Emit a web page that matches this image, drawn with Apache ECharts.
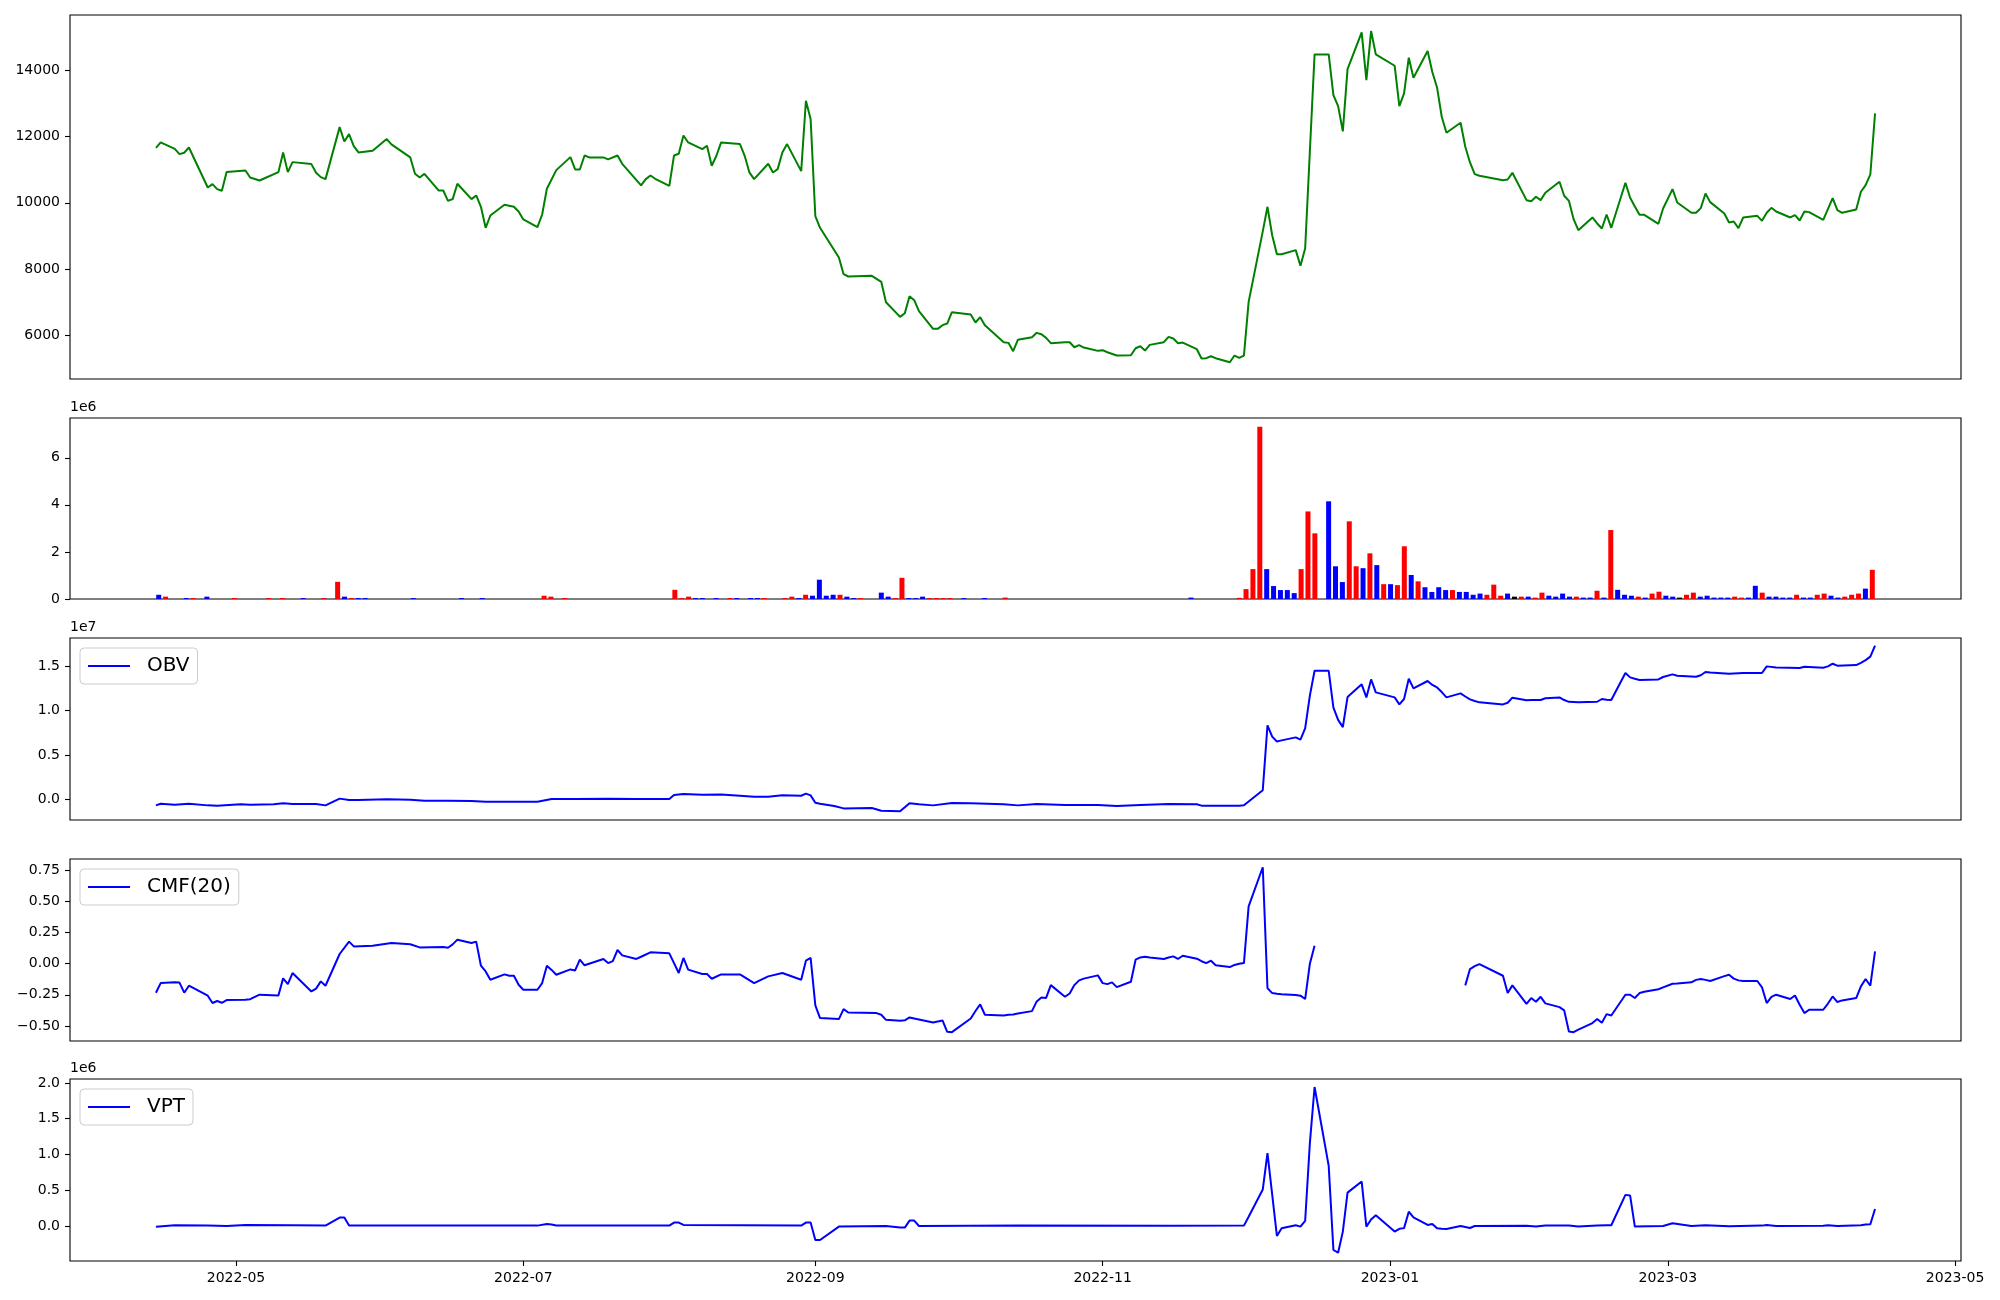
<!DOCTYPE html>
<html><head><meta charset="utf-8">
<script src="https://cdn.jsdelivr.net/npm/echarts@6/dist/echarts.min.js"></script>
<style>html,body{margin:0;padding:0;background:#fff}#c{width:2000px;height:1300px}</style>
</head><body><div id="c"></div>
<script>
// ---------- DATA ----------
const pricePoints = [
['2022-04-14',11658],['2022-04-15',11819],['2022-04-18',11628],['2022-04-19',11467],['2022-04-20',11508],['2022-04-21',11668],
['2022-04-25',10462],['2022-04-26',10563],['2022-04-27',10412],['2022-04-28',10362],['2022-04-29',10925],['2022-05-03',10975],
['2022-05-04',10764],['2022-05-06',10673],['2022-05-10',10925],['2022-05-11',11518],['2022-05-12',10925],['2022-05-13',11226],
['2022-05-17',11166],['2022-05-18',10905],['2022-05-19',10774],['2022-05-20',10714],['2022-05-23',12281],['2022-05-24',11849],
['2022-05-25',12070],['2022-05-26',11708],['2022-05-27',11518],['2022-05-30',11568],['2022-06-02',11920],['2022-06-03',11759],
['2022-06-07',11367],['2022-06-08',10875],['2022-06-09',10764],['2022-06-10',10875],['2022-06-13',10372],['2022-06-14',10372],
['2022-06-15',10060],['2022-06-16',10111],['2022-06-17',10573],['2022-06-20',10111],['2022-06-21',10221],['2022-06-22',9880],
['2022-06-23',9246],['2022-06-24',9618],['2022-06-27',9940],['2022-06-29',9880],['2022-06-30',9739],['2022-07-01',9498],
['2022-07-04',9266],['2022-07-05',9648],['2022-07-06',10422],['2022-07-08',10985],['2022-07-11',11377],['2022-07-12',11005],
['2022-07-13',11005],['2022-07-14',11427],['2022-07-15',11367],['2022-07-18',11367],['2022-07-19',11307],['2022-07-21',11427],
['2022-07-22',11176],['2022-07-26',10523],['2022-07-27',10714],['2022-07-28',10824],['2022-07-29',10724],['2022-08-01',10513],
['2022-08-02',11427],['2022-08-03',11477],['2022-08-04',12030],['2022-08-05',11819],['2022-08-08',11618],['2022-08-09',11719],
['2022-08-10',11116],['2022-08-11',11417],['2022-08-12',11819],['2022-08-16',11769],['2022-08-17',11417],['2022-08-18',10915],
['2022-08-19',10714],['2022-08-22',11176],['2022-08-23',10915],['2022-08-24',11015],['2022-08-25',11517],['2022-08-26',11769],
['2022-08-29',10955],['2022-08-30',13075],['2022-08-31',12523],['2022-09-01',9598],['2022-09-02',9246],['2022-09-06',8352],
['2022-09-07',7849],['2022-09-08',7779],['2022-09-13',7799],['2022-09-15',7618],['2022-09-16',7005],['2022-09-19',6563],
['2022-09-20',6674],['2022-09-21',7186],['2022-09-22',7065],['2022-09-23',6734],['2022-09-26',6201],['2022-09-27',6201],
['2022-09-28',6312],['2022-09-29',6362],['2022-09-30',6704],['2022-10-04',6633],['2022-10-05',6392],['2022-10-06',6553],
['2022-10-07',6312],['2022-10-11',5799],['2022-10-12',5779],['2022-10-13',5528],['2022-10-14',5870],['2022-10-17',5950],
['2022-10-18',6081],['2022-10-19',6040],['2022-10-20',5930],['2022-10-21',5769],['2022-10-24',5799],['2022-10-25',5799],
['2022-10-26',5648],['2022-10-27',5709],['2022-10-28',5638],['2022-10-31',5538],['2022-11-01',5558],['2022-11-02',5497],
['2022-11-04',5397],['2022-11-07',5407],['2022-11-08',5618],['2022-11-09',5678],['2022-11-10',5548],['2022-11-11',5718],
['2022-11-14',5799],['2022-11-15',5960],['2022-11-16',5910],['2022-11-17',5769],['2022-11-18',5789],['2022-11-21',5588],
['2022-11-22',5307],['2022-11-23',5317],['2022-11-24',5377],['2022-11-25',5317],['2022-11-28',5196],['2022-11-29',5397],
['2022-11-30',5327],['2022-12-01',5397],['2022-12-02',7015],['2022-12-05',9140],['2022-12-06',9880],['2022-12-07',9023],
['2022-12-08',8452],['2022-12-09',8452],['2022-12-12',8573],['2022-12-13',8101],['2022-12-14',8623],['2022-12-15',11550],
['2022-12-16',14472],['2022-12-19',14472],['2022-12-20',13246],['2022-12-21',12915],['2022-12-22',12151],['2022-12-23',14030],
['2022-12-26',15136],['2022-12-27',13698],['2022-12-28',15176],['2022-12-29',14472],['2023-01-02',14131],['2023-01-03',12915],
['2023-01-04',13296],['2023-01-05',14372],['2023-01-06',13769],['2023-01-09',14573],['2023-01-10',13940],['2023-01-11',13477],
['2023-01-12',12593],['2023-01-13',12111],['2023-01-16',12412],['2023-01-17',11688],['2023-01-18',11216],['2023-01-19',10864],
['2023-01-20',10814],['2023-01-25',10683],['2023-01-26',10703],['2023-01-27',10904],['2023-01-30',10080],['2023-01-31',10050],
['2023-02-01',10181],['2023-02-02',10080],['2023-02-03',10302],['2023-02-06',10633],['2023-02-07',10211],['2023-02-08',10060],
['2023-02-09',9508],['2023-02-10',9176],['2023-02-13',9558],['2023-02-14',9377],['2023-02-15',9226],['2023-02-16',9648],
['2023-02-17',9246],['2023-02-20',10603],['2023-02-21',10151],['2023-02-22',9890],['2023-02-23',9638],['2023-02-24',9638],
['2023-02-27',9367],['2023-02-28',9829],['2023-03-02',10412],['2023-03-03',10010],['2023-03-06',9699],['2023-03-07',9699],
['2023-03-08',9839],['2023-03-09',10281],['2023-03-10',10020],['2023-03-13',9678],['2023-03-14',9407],['2023-03-15',9437],
['2023-03-16',9236],['2023-03-17',9558],['2023-03-20',9608],['2023-03-21',9457],['2023-03-22',9699],['2023-03-23',9849],
['2023-03-24',9739],['2023-03-27',9558],['2023-03-28',9628],['2023-03-29',9467],['2023-03-30',9739],['2023-03-31',9719],
['2023-04-03',9488],['2023-04-05',10141],['2023-04-06',9779],['2023-04-07',9699],['2023-04-10',9799],['2023-04-11',10332],
['2023-04-12',10533],['2023-04-13',10854],['2023-04-14',12693]
];

// volume bars: [trading-day index, volume, direction r/b/k]
const volumeBars = [
[0,0.18e6,'b'],[1,0.10e6,'r'],[4,0.04e6,'b'],[5,0.04e6,'r'],[7,0.10e6,'b'],[11,0.04e6,'r'],[16,0.04e6,'r'],[18,0.04e6,'r'],
[21,0.04e6,'b'],[24,0.04e6,'r'],[26,0.73e6,'r'],[27,0.10e6,'b'],[28,0.04e6,'r'],[29,0.04e6,'b'],[30,0.04e6,'b'],[37,0.04e6,'b'],
[44,0.04e6,'b'],[47,0.04e6,'b'],[56,0.14e6,'r'],[57,0.10e6,'r'],[59,0.04e6,'r'],[75,0.39e6,'r'],[76,0.04e6,'r'],[77,0.10e6,'r'],
[78,0.04e6,'b'],[79,0.04e6,'b'],[81,0.04e6,'b'],[83,0.04e6,'r'],[84,0.04e6,'b'],[86,0.04e6,'b'],[87,0.04e6,'b'],[88,0.04e6,'r'],
[91,0.04e6,'r'],[92,0.10e6,'r'],[93,0.04e6,'b'],[94,0.18e6,'r'],[95,0.14e6,'b'],[96,0.82e6,'b'],[97,0.14e6,'b'],[98,0.18e6,'b'],
[99,0.18e6,'r'],[100,0.10e6,'b'],[101,0.04e6,'b'],[102,0.04e6,'r'],[105,0.27e6,'b'],[106,0.10e6,'b'],[107,0.04e6,'r'],[108,0.90e6,'r'],
[109,0.04e6,'b'],[110,0.04e6,'b'],[111,0.10e6,'b'],[112,0.04e6,'r'],[113,0.04e6,'r'],[114,0.04e6,'r'],[115,0.04e6,'r'],[117,0.04e6,'b'],
[120,0.04e6,'b'],[123,0.06e6,'r'],[150,0.06e6,'b'],
[157,0.05e6,'r'],[158,0.42e6,'r'],[159,1.27e6,'r'],[160,7.32e6,'r'],[161,1.27e6,'b'],[162,0.55e6,'b'],[163,0.38e6,'b'],[164,0.38e6,'b'],
[165,0.25e6,'b'],[166,1.27e6,'r'],[167,3.72e6,'r'],[168,2.79e6,'r'],[170,4.15e6,'b'],[171,1.39e6,'b'],[172,0.72e6,'b'],[173,3.30e6,'r'],
[174,1.39e6,'r'],[175,1.31e6,'b'],[176,1.94e6,'r'],[177,1.44e6,'b'],[178,0.63e6,'r'],[179,0.63e6,'b'],[180,0.59e6,'r'],[181,2.24e6,'r'],
[182,1.02e6,'b'],[183,0.75e6,'r'],[184,0.50e6,'b'],[185,0.30e6,'b'],[186,0.50e6,'b'],[187,0.38e6,'b'],[188,0.38e6,'r'],[189,0.30e6,'b'],
[190,0.30e6,'b'],[191,0.18e6,'b'],[192,0.23e6,'b'],[193,0.18e6,'r'],[194,0.61e6,'r'],[195,0.14e6,'r'],[196,0.23e6,'b'],[197,0.10e6,'k'],
[198,0.10e6,'r'],[199,0.10e6,'b'],[200,0.06e6,'r'],[201,0.27e6,'r'],[202,0.14e6,'b'],[203,0.10e6,'b'],[204,0.23e6,'b'],[205,0.10e6,'b'],
[206,0.10e6,'r'],[207,0.06e6,'b'],[208,0.06e6,'b'],[209,0.35e6,'r'],[210,0.06e6,'b'],[211,2.93e6,'r'],[212,0.39e6,'b'],[213,0.18e6,'b'],
[214,0.14e6,'b'],[215,0.10e6,'r'],[216,0.06e6,'b'],[217,0.23e6,'r'],[218,0.31e6,'r'],[219,0.14e6,'b'],[220,0.10e6,'b'],[221,0.06e6,'k'],
[222,0.18e6,'r'],[223,0.27e6,'r'],[224,0.10e6,'b'],[225,0.14e6,'b'],[226,0.06e6,'b'],[227,0.06e6,'b'],[228,0.06e6,'b'],[229,0.10e6,'r'],
[230,0.06e6,'r'],[231,0.06e6,'b'],[232,0.56e6,'b'],[233,0.27e6,'r'],[234,0.10e6,'b'],[235,0.10e6,'b'],[236,0.06e6,'b'],[237,0.06e6,'b'],
[238,0.18e6,'r'],[239,0.06e6,'b'],[240,0.06e6,'b'],[241,0.18e6,'r'],[242,0.23e6,'r'],[243,0.14e6,'b'],[244,0.06e6,'b'],[245,0.10e6,'r'],
[246,0.18e6,'r'],[247,0.23e6,'r'],[248,0.44e6,'b'],[249,1.24e6,'r']
];
const tradingDayCount = 250;

const obvPoints = [
['2022-04-14',-0.068e7],['2022-04-15',-0.049e7],['2022-04-18',-0.060e7],['2022-04-21',-0.049e7],['2022-04-25',-0.068e7],
['2022-04-27',-0.071e7],['2022-05-02',-0.056e7],['2022-05-04',-0.060e7],['2022-05-09',-0.056e7],['2022-05-11',-0.045e7],
['2022-05-13',-0.053e7],['2022-05-18',-0.053e7],['2022-05-20',-0.068e7],['2022-05-23',0.008e7],['2022-05-25',-0.008e7],
['2022-05-27',-0.008e7],['2022-06-02',0.000e7],['2022-06-07',-0.004e7],['2022-06-10',-0.015e7],['2022-06-15',-0.015e7],
['2022-06-20',-0.019e7],['2022-06-23',-0.026e7],['2022-06-28',-0.026e7],['2022-07-04',-0.026e7],['2022-07-07',0.004e7],
['2022-07-12',0.004e7],['2022-07-19',0.008e7],['2022-07-25',0.004e7],['2022-08-01',0.004e7],['2022-08-02',0.049e7],
['2022-08-04',0.060e7],['2022-08-08',0.053e7],['2022-08-12',0.056e7],['2022-08-16',0.041e7],['2022-08-19',0.030e7],
['2022-08-22',0.030e7],['2022-08-25',0.045e7],['2022-08-29',0.041e7],['2022-08-30',0.064e7],['2022-08-31',0.045e7],
['2022-09-01',-0.038e7],['2022-09-02',-0.049e7],['2022-09-05',-0.075e7],['2022-09-07',-0.102e7],['2022-09-13',-0.098e7],
['2022-09-15',-0.128e7],['2022-09-19',-0.135e7],['2022-09-21',-0.045e7],['2022-09-23',-0.056e7],['2022-09-26',-0.068e7],
['2022-09-30',-0.041e7],['2022-10-04',-0.045e7],['2022-10-11',-0.056e7],['2022-10-14',-0.068e7],['2022-10-18',-0.053e7],
['2022-10-24',-0.064e7],['2022-10-31',-0.064e7],['2022-11-04',-0.075e7],['2022-11-09',-0.064e7],['2022-11-15',-0.053e7],
['2022-11-21',-0.056e7],['2022-11-22',-0.071e7],['2022-11-30',-0.071e7],['2022-12-01',-0.066e7],['2022-12-02',-0.024e7],
['2022-12-05',0.103e7],['2022-12-06',0.835e7],['2022-12-07',0.708e7],['2022-12-08',0.653e7],['2022-12-09',0.665e7],
['2022-12-12',0.699e7],['2022-12-13',0.673e7],['2022-12-14',0.800e7],['2022-12-15',1.170e7],['2022-12-16',1.450e7],
['2022-12-19',1.450e7],['2022-12-20',1.035e7],['2022-12-21',0.896e7],['2022-12-22',0.815e7],['2022-12-23',1.154e7],
['2022-12-26',1.297e7],['2022-12-27',1.150e7],['2022-12-28',1.353e7],['2022-12-29',1.207e7],['2023-01-02',1.150e7],
['2023-01-03',1.071e7],['2023-01-04',1.132e7],['2023-01-05',1.361e7],['2023-01-06',1.252e7],['2023-01-09',1.335e7],
['2023-01-10',1.290e7],['2023-01-11',1.262e7],['2023-01-12',1.210e7],['2023-01-13',1.150e7],['2023-01-16',1.195e7],
['2023-01-17',1.160e7],['2023-01-18',1.128e7],['2023-01-19',1.110e7],['2023-01-20',1.094e7],['2023-01-25',1.071e7],
['2023-01-26',1.090e7],['2023-01-27',1.147e7],['2023-01-30',1.117e7],['2023-01-31',1.120e7],['2023-02-02',1.120e7],
['2023-02-03',1.140e7],['2023-02-06',1.150e7],['2023-02-07',1.120e7],['2023-02-08',1.100e7],['2023-02-10',1.095e7],
['2023-02-14',1.101e7],['2023-02-15',1.132e7],['2023-02-16',1.124e7],['2023-02-17',1.120e7],['2023-02-20',1.425e7],
['2023-02-21',1.376e7],['2023-02-22',1.360e7],['2023-02-23',1.346e7],['2023-02-27',1.353e7],['2023-02-28',1.380e7],
['2023-03-02',1.410e7],['2023-03-03',1.395e7],['2023-03-07',1.383e7],['2023-03-08',1.400e7],['2023-03-09',1.436e7],
['2023-03-10',1.430e7],['2023-03-14',1.417e7],['2023-03-17',1.425e7],['2023-03-21',1.425e7],['2023-03-22',1.500e7],
['2023-03-24',1.487e7],['2023-03-29',1.481e7],['2023-03-30',1.496e7],['2023-04-03',1.485e7],['2023-04-04',1.500e7],
['2023-04-05',1.530e7],['2023-04-06',1.508e7],['2023-04-10',1.515e7],['2023-04-11',1.540e7],['2023-04-12',1.570e7],
['2023-04-13',1.610e7],['2023-04-14',1.733e7]
];

const cmfPoints = [
['2022-04-14',-0.233],['2022-04-15',-0.156],['2022-04-18',-0.150],['2022-04-19',-0.152],['2022-04-20',-0.233],['2022-04-21',-0.177],
['2022-04-25',-0.257],['2022-04-26',-0.316],['2022-04-27',-0.300],['2022-04-28',-0.314],['2022-04-29',-0.292],['2022-05-03',-0.290],
['2022-05-04',-0.285],['2022-05-06',-0.249],['2022-05-10',-0.255],['2022-05-11',-0.118],['2022-05-12',-0.164],['2022-05-13',-0.075],
['2022-05-17',-0.223],['2022-05-18',-0.200],['2022-05-19',-0.142],['2022-05-20',-0.177],['2022-05-23',0.078],['2022-05-25',0.177],
['2022-05-26',0.139],['2022-05-30',0.145],['2022-06-03',0.166],['2022-06-07',0.156],['2022-06-09',0.131],['2022-06-14',0.134],
['2022-06-15',0.128],['2022-06-16',0.155],['2022-06-17',0.193],['2022-06-20',0.166],['2022-06-21',0.177],['2022-06-22',-0.016],
['2022-06-23',-0.062],['2022-06-24',-0.129],['2022-06-27',-0.086],['2022-06-28',-0.097],['2022-06-29',-0.097],['2022-06-30',-0.169],
['2022-07-01',-0.209],['2022-07-04',-0.209],['2022-07-05',-0.156],['2022-07-06',-0.016],['2022-07-07',-0.050],['2022-07-08',-0.089],
['2022-07-11',-0.046],['2022-07-12',-0.054],['2022-07-13',0.032],['2022-07-14',-0.013],['2022-07-18',0.038],['2022-07-19',0.005],
['2022-07-20',0.021],['2022-07-21',0.110],['2022-07-22',0.067],['2022-07-25',0.038],['2022-07-26',0.056],['2022-07-28',0.091],
['2022-08-01',0.083],['2022-08-03',-0.075],['2022-08-04',0.046],['2022-08-05',-0.048],['2022-08-08',-0.083],['2022-08-09',-0.083],
['2022-08-10',-0.121],['2022-08-12',-0.086],['2022-08-16',-0.086],['2022-08-19',-0.156],['2022-08-22',-0.102],['2022-08-25',-0.075],
['2022-08-29',-0.129],['2022-08-30',0.024],['2022-08-31',0.046],['2022-09-01',-0.335],['2022-09-02',-0.437],['2022-09-06',-0.445],
['2022-09-07',-0.365],['2022-09-08',-0.392],['2022-09-14',-0.397],['2022-09-15',-0.410],['2022-09-16',-0.451],['2022-09-19',-0.459],
['2022-09-20',-0.455],['2022-09-21',-0.432],['2022-09-26',-0.472],['2022-09-28',-0.456],['2022-09-29',-0.547],['2022-09-30',-0.550],
['2022-10-04',-0.440],['2022-10-05',-0.380],['2022-10-06',-0.327],['2022-10-07',-0.410],['2022-10-11',-0.416],['2022-10-12',-0.410],
['2022-10-13',-0.408],['2022-10-14',-0.400],['2022-10-17',-0.381],['2022-10-18',-0.303],['2022-10-19',-0.271],['2022-10-20',-0.275],
['2022-10-21',-0.172],['2022-10-24',-0.266],['2022-10-25',-0.239],['2022-10-26',-0.172],['2022-10-27',-0.134],['2022-10-28',-0.120],
['2022-10-31',-0.094],['2022-11-01',-0.156],['2022-11-02',-0.164],['2022-11-03',-0.150],['2022-11-04',-0.188],['2022-11-07',-0.145],
['2022-11-08',0.032],['2022-11-09',0.050],['2022-11-10',0.056],['2022-11-11',0.050],['2022-11-14',0.038],['2022-11-15',0.050],
['2022-11-16',0.059],['2022-11-17',0.038],['2022-11-18',0.064],['2022-11-21',0.040],['2022-11-22',0.020],['2022-11-23',0.005],
['2022-11-24',0.024],['2022-11-25',-0.013],['2022-11-28',-0.027],['2022-11-29',-0.010],['2022-11-30',0.000],['2022-12-01',0.005],
['2022-12-02',0.461],['2022-12-05',0.775],['2022-12-06',-0.196],['2022-12-07',-0.236],['2022-12-08',-0.241],['2022-12-09',-0.245],
['2022-12-12',-0.252],['2022-12-13',-0.257],['2022-12-14',-0.284],['2022-12-15',0.000],['2022-12-16',0.145],['2022-12-19',null],
['2023-01-17',-0.174],['2023-01-18',-0.043],['2023-01-19',-0.020],['2023-01-20',-0.003],['2023-01-25',-0.097],['2023-01-26',-0.236],
['2023-01-27',-0.174],['2023-01-30',-0.322],['2023-01-31',-0.276],['2023-02-01',-0.306],['2023-02-02',-0.266],['2023-02-03',-0.319],
['2023-02-06',-0.349],['2023-02-07',-0.375],['2023-02-08',-0.544],['2023-02-09',-0.550],['2023-02-10',-0.530],['2023-02-13',-0.477],
['2023-02-14',-0.445],['2023-02-15',-0.475],['2023-02-16',-0.405],['2023-02-17',-0.416],['2023-02-20',-0.249],['2023-02-21',-0.249],
['2023-02-22',-0.276],['2023-02-23',-0.236],['2023-02-24',-0.225],['2023-02-27',-0.205],['2023-02-28',-0.190],['2023-03-02',-0.161],
['2023-03-03',-0.160],['2023-03-06',-0.150],['2023-03-07',-0.130],['2023-03-08',-0.123],['2023-03-09',-0.130],['2023-03-10',-0.139],
['2023-03-13',-0.100],['2023-03-14',-0.089],['2023-03-15',-0.120],['2023-03-16',-0.134],['2023-03-17',-0.139],['2023-03-20',-0.139],
['2023-03-21',-0.190],['2023-03-22',-0.316],['2023-03-23',-0.266],['2023-03-24',-0.249],['2023-03-27',-0.284],['2023-03-28',-0.255],
['2023-03-29',-0.330],['2023-03-30',-0.397],['2023-03-31',-0.370],['2023-04-03',-0.370],['2023-04-04',-0.320],['2023-04-05',-0.263],
['2023-04-06',-0.308],['2023-04-07',-0.295],['2023-04-10',-0.276],['2023-04-11',-0.182],['2023-04-12',-0.123],['2023-04-13',-0.177],
['2023-04-14',0.099]
];

const vptPoints = [
['2022-04-14',-0.010e6],['2022-04-18',0.010e6],['2022-04-25',0.008e6],['2022-04-29',0.000e6],['2022-05-03',0.012e6],
['2022-05-13',0.010e6],['2022-05-20',0.005e6],['2022-05-23',0.117e6],['2022-05-24',0.117e6],['2022-05-25',0.005e6],
['2022-06-20',0.006e6],['2022-07-04',0.005e6],['2022-07-06',0.028e6],['2022-07-07',0.020e6],['2022-07-08',0.008e6],
['2022-08-01',0.005e6],['2022-08-02',0.047e6],['2022-08-03',0.047e6],['2022-08-04',0.014e6],['2022-08-29',0.005e6],
['2022-08-30',0.047e6],['2022-08-31',0.047e6],['2022-09-01',-0.196e6],['2022-09-02',-0.196e6],['2022-09-06',-0.009e6],
['2022-09-16',0.000e6],['2022-09-19',-0.023e6],['2022-09-20',-0.023e6],['2022-09-21',0.075e6],['2022-09-22',0.075e6],
['2022-09-23',0.000e6],['2022-10-14',0.005e6],['2022-11-15',0.004e6],['2022-12-01',0.005e6],['2022-12-02',0.130e6],
['2022-12-05',0.510e6],['2022-12-06',1.020e6],['2022-12-08',-0.140e6],['2022-12-09',-0.033e6],['2022-12-12',0.010e6],
['2022-12-13',-0.009e6],['2022-12-14',0.070e6],['2022-12-15',1.159e6],['2022-12-16',1.944e6],['2022-12-19',0.841e6],
['2022-12-20',-0.336e6],['2022-12-21',-0.374e6],['2022-12-22',-0.079e6],['2022-12-23',0.467e6],['2022-12-26',0.621e6],
['2022-12-27',-0.009e6],['2022-12-28',0.090e6],['2022-12-29',0.150e6],['2023-01-02',-0.079e6],['2023-01-03',-0.040e6],
['2023-01-04',-0.030e6],['2023-01-05',0.200e6],['2023-01-06',0.120e6],['2023-01-09',0.014e6],['2023-01-10',0.028e6],
['2023-01-11',-0.033e6],['2023-01-12',-0.040e6],['2023-01-13',-0.042e6],['2023-01-16',0.000e6],['2023-01-18',-0.028e6],
['2023-01-19',0.000e6],['2023-01-30',0.002e6],['2023-02-01',-0.008e6],['2023-02-03',0.005e6],['2023-02-08',0.007e6],
['2023-02-10',-0.008e6],['2023-02-14',0.006e6],['2023-02-16',0.009e6],['2023-02-17',0.010e6],['2023-02-20',0.435e6],
['2023-02-21',0.425e6],['2023-02-22',-0.009e6],['2023-02-28',0.000e6],['2023-03-02',0.037e6],['2023-03-06',0.000e6],
['2023-03-09',0.010e6],['2023-03-14',-0.005e6],['2023-03-21',0.005e6],['2023-03-22',0.015e6],['2023-03-24',0.000e6],
['2023-04-03',0.002e6],['2023-04-04',0.010e6],['2023-04-06',-0.002e6],['2023-04-11',0.010e6],['2023-04-12',0.020e6],
['2023-04-13',0.023e6],['2023-04-14',0.238e6]
];

const dateTickLabels = ['2022-05','2022-07','2022-09','2022-11','2023-01','2023-03','2023-05'];
const priceTicks = [6000,8000,10000,12000,14000];
const volumeTicks = [0,2e6,4e6,6e6];
const obvTicks = [0,0.5e7,1.0e7,1.5e7];
const cmfTicks = [-0.5,-0.25,0,0.25,0.5,0.75];
const vptTicks = [0,0.5e6,1.0e6,1.5e6,2.0e6];

// ---------- HELPERS ----------
function ts(s){ const p = s.split('-').map(Number); return Date.UTC(p[0], p[1]-1, p[2] || 1); }
const toXY = arr => arr.map(d => [ts(d[0]), d[1]]);
const MINUS = '\u2212';
const fmtMinus = s => s.replace('-', MINUS);

const X_MIN = Date.UTC(2022,2,26,18), X_MAX = Date.UTC(2023,4,2,6);
const BAR_MIN = -0.4 - 0.05*(tradingDayCount - 0.2);
const BAR_MAX = (tradingDayCount - 1) + 0.4 + 0.05*(tradingDayCount - 0.2);

const FONT = 'DejaVu Sans';
const LEFT = 70, RIGHT = 39;
const gridSpecs = [[15,364],[418,181],[638,182],[859,182],[1079,182]];
const grid = gridSpecs.map(g => ({left:LEFT, right:RIGHT, top:g[0], height:g[1], show:true,
  borderColor:'#000', borderWidth:1.1, backgroundColor:'rgba(0,0,0,0)'}));

const dateTickValues = dateTickLabels.map(s => ts(s + '-01'));
function xAxisFor(i){
  const base = {gridIndex:i, type:'value', position:'bottom', min:X_MIN, max:X_MAX,
    axisLine:{show:false, onZero:false}, splitLine:{show:false},
    axisTick:{show:false}, axisLabel:{show:false}};
  if (i === 1) { base.min = BAR_MIN; base.max = BAR_MAX; }
  if (i === 4) {
    base.axisTick = {show:true, length:5, lineStyle:{color:'#000', width:1.1}, customValues:dateTickValues};
    base.axisLabel = {show:true, customValues:dateTickValues, margin:10, color:'#000', fontSize:14, fontFamily:FONT,
      formatter: v => new Date(v).toISOString().slice(0,7)};
  }
  return base;
}
function yAxisFor(i, min, max, ticks, fmt, offsetName){
  const a = {gridIndex:i, type:'value', position:'left', min:min, max:max,
    axisLine:{show:false, onZero:false}, splitLine:{show:false},
    axisTick:{show:true, length:5, lineStyle:{color:'#000', width:1.1}, customValues:ticks},
    axisLabel:{show:true, customValues:ticks, margin:10, color:'#000', fontSize:14, fontFamily:FONT, formatter:fmt}};
  if (offsetName) {
    a.name = offsetName; a.nameLocation = 'end'; a.nameGap = 4;
    a.nameTextStyle = {align:'left', verticalAlign:'bottom', fontSize:14, color:'#000', fontFamily:FONT};
  }
  return a;
}

const dirColor = {r:'#ff0000', b:'#0000ff', k:'#000000'};
function legendFor(name, top){
  return {data:[name], left:80, top:top, orient:'horizontal', icon:'rect', itemWidth:42, itemHeight:2,
    padding:[8,8,8,8], backgroundColor:'rgba(255,255,255,0.8)', borderColor:'#cccccc', borderWidth:1, borderRadius:4,
    selectedMode:false, textStyle:{fontSize:20, lineHeight:20, fontFamily:FONT, color:'#000', padding:[0,0,0,12]}};
}

const option = {
  animation:false,
  backgroundColor:'#ffffff',
  grid: grid,
  legend: [legendFor('OBV', 648), legendFor('CMF(20)', 869), legendFor('VPT', 1089)],
  xAxis: [0,1,2,3,4].map(xAxisFor),
  yAxis: [
    yAxisFor(0, 4690, 15660, priceTicks, v => String(v)),
    yAxisFor(1, 0, 7.69e6, volumeTicks, v => String(Math.round(v/1e6)), '1e6'),
    yAxisFor(2, -0.233e7, 1.82e7, obvTicks, v => (v/1e7).toFixed(1), '1e7'),
    yAxisFor(3, -0.621, 0.841, cmfTicks, v => fmtMinus(v.toFixed(2))),
    yAxisFor(4, -0.49e6, 2.056e6, vptTicks, v => (v/1e6).toFixed(1), '1e6')
  ],
  series: [
    {name:'Close', type:'line', xAxisIndex:0, yAxisIndex:0, data:toXY(pricePoints), showSymbol:false, symbol:'none',
      lineStyle:{color:'#008000', width:2}, itemStyle:{color:'#008000'}},
    {name:'Volume', type:'bar', xAxisIndex:1, yAxisIndex:1, barWidth:5,
      data: volumeBars.map(b => ({value:[b[0], b[1]], itemStyle:{color:dirColor[b[2]]}}))},
    {name:'OBV', type:'line', xAxisIndex:2, yAxisIndex:2, data:toXY(obvPoints), showSymbol:false, symbol:'none',
      lineStyle:{color:'#0000ff', width:2}, itemStyle:{color:'#0000ff'}},
    {name:'CMF(20)', type:'line', xAxisIndex:3, yAxisIndex:3, data:toXY(cmfPoints), showSymbol:false, symbol:'none',
      connectNulls:false, lineStyle:{color:'#0000ff', width:2}, itemStyle:{color:'#0000ff'}},
    {name:'VPT', type:'line', xAxisIndex:4, yAxisIndex:4, data:toXY(vptPoints), showSymbol:false, symbol:'none',
      lineStyle:{color:'#0000ff', width:2}, itemStyle:{color:'#0000ff'}}
  ]
};
const chart = echarts.init(document.getElementById('c'), null, {renderer:'canvas', width:2000, height:1300});
chart.setOption(option);
</script>
</body></html>
